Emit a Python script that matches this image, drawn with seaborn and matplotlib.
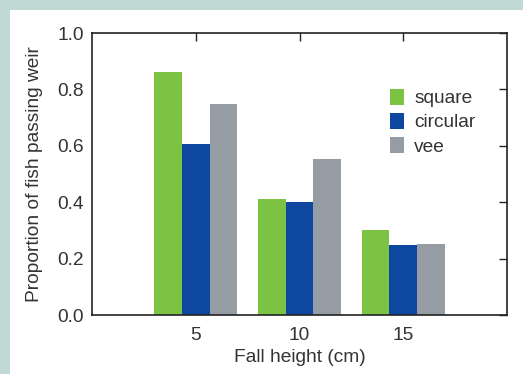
import pandas as pd
import numpy as np
import matplotlib
matplotlib.use('Agg')
import matplotlib.pyplot as plt
import seaborn as sns
from matplotlib.patches import Rectangle

fall_heights = ['5', '10', '15']
weir_types = ['square', 'circular', 'vee']
square_vals = [0.86, 0.41, 0.30]
circular_vals = [0.605, 0.40, 0.248]
vee_vals = [0.75, 0.552, 0.253]
colors = ['#7cc243', '#0e479f', '#959ca3']

df = pd.DataFrame({
    'height': fall_heights * 3,
    'type': np.repeat(weir_types, 3),
    'prop': square_vals + circular_vals + vee_vals
})

sns.set_style('white')
plt.rcParams['font.family'] = ['Liberation Sans', 'DejaVu Sans']
text_col = '#333333'
fs = 13.8

fig = plt.figure(figsize=(5.23, 3.74), dpi=100)
fig.patch.set_facecolor('#c0d9d4')
fig.patches.append(Rectangle((10 / 523, 0), 1, 1 - 10 / 374, transform=fig.transFigure,
                             facecolor='white', edgecolor='none', zorder=-1))

ax = fig.add_axes([92 / 523, 1 - 315 / 374, 415 / 523, 282 / 374])
sns.barplot(data=df, x='height', y='prop', hue='type', order=fall_heights,
            hue_order=weir_types, palette=colors, width=0.8, saturation=1,
            errorbar=None, linewidth=0, ax=ax)

ax.set_xlim(-1, 3)
ax.set_ylim(0, 1.0)
ax.set_yticks([0, 0.2, 0.4, 0.6, 0.8, 1.0])
ax.set_yticklabels(['0.0', '0.2', '0.4', '0.6', '0.8', '1.0'])
ax.tick_params(direction='in', length=6, width=1, colors='#222222',
               labelcolor=text_col, labelsize=fs, top=True, right=True)
ax.tick_params(axis='x', pad=9)
ax.tick_params(axis='y', pad=6)
for s in ax.spines.values():
    s.set_color('#222222')
    s.set_linewidth(1.2)
ax.set_xlabel('Fall height (cm)', fontsize=fs, color=text_col, labelpad=3)
ax.set_ylabel('Proportion of fish passing weir', fontsize=fs, color=text_col, labelpad=10)

leg = ax.legend(loc='upper left', bbox_to_anchor=(0.7, 0.83), frameon=False,
                fontsize=fs, handlelength=0.7, handleheight=0.9, handletextpad=0.55,
                labelspacing=0.3, borderaxespad=0)
for t in leg.get_texts():
    t.set_color(text_col)

fig.savefig('out.png', dpi=100, facecolor=fig.get_facecolor())
